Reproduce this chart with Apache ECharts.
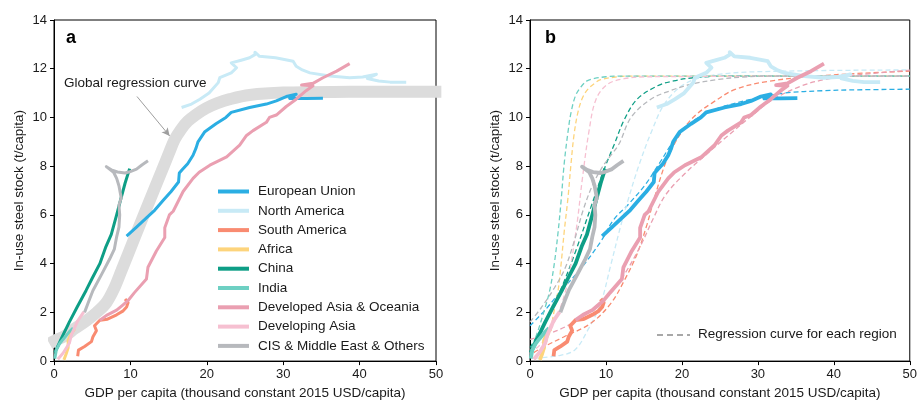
<!DOCTYPE html>
<html><head><meta charset="utf-8">
<script src="https://cdn.jsdelivr.net/npm/echarts@6/dist/echarts.min.js"></script>
<style>html,body{margin:0;padding:0;background:#fff}#c{width:920px;height:405px}</style>
</head><body><div id="c"></div>
<script>
// ---- categories / colours ----
const regions = ['European Union','North America','South America','Africa','China','India',
  'Developed Asia & Oceania','Developing Asia','CIS & Middle East & Others'];
const regionColors = ['#2BAEE3','#C8EAF6','#F98B71','#FDD47C','#0E9E86','#6ED0C3','#EA9FB1','#F6C0D1','#B7B9BD'];

// ---- observed trajectories [GDP per capita, steel stock] ----
const euLine = [[9.5,5.13],[10.8,5.5],[12.1,5.88],[13.2,6.2],[14.3,6.6],[15.3,6.95],[16.3,7.35],[16.4,7.72],[16.8,7.86],[17.5,8.1],[18.2,8.45],[18.6,8.75],[18.85,9.0],[19.7,9.4],[21.2,9.74],[22.5,10.0],[23.2,10.21],[25.6,10.41],[27.8,10.55],[29.1,10.68],[30.4,10.86],[31.7,10.95],[30.85,10.78],[33,10.78],[35.2,10.79]];
const naLine = [[16.7,10.41],[18.0,10.55],[19.1,10.75],[20.3,11.0],[21.5,11.43],[21.7,11.63],[23.2,11.83],[23.9,12.04],[23.2,12.24],[24.5,12.35],[25.6,12.45],[26.3,12.58],[26.3,12.68],[26.9,12.51],[29,12.45],[31.3,12.31],[31.7,12.1],[32.5,11.95],[33.5,11.83],[36.1,11.7],[38.7,11.63],[40.4,11.66],[42.2,11.77],[41,11.6],[42.5,11.5],[44,11.45],[46.1,11.45]];
const saLine = [[3.1,0.2],[3.2,0.45],[4.0,0.6],[4.9,0.8],[5.1,1.0],[5.55,1.25],[5.3,1.45],[6.0,1.68],[7.0,1.72],[8.2,1.9],[9.0,2.05],[9.5,2.22],[9.7,2.4],[9.3,2.55]];
const africaLine = [[1.3,0.05],[1.6,0.3],[1.85,0.55],[1.85,0.85],[2.2,1.1],[2.7,1.32]];
const chinaLine = [[0.1,0.35],[1.0,0.95],[2.0,1.6],[3.0,2.2],[4.2,2.9],[5.0,3.4],[6.0,4.0],[6.8,4.7],[7.5,5.2],[8.2,6.0],[8.7,6.6],[9.3,7.3],[9.9,7.9]];
const indiaLine = [[0.1,0.1],[0.3,0.45],[0.7,0.7],[1.2,0.9],[2.0,1.2],[2.5,1.35]];
const devAsiaOceLine = [[6.0,1.68],[7.0,1.9],[8.2,2.09],[9.0,2.3],[9.7,2.49],[10.5,2.8],[12.1,3.37],[12.3,3.85],[13.4,4.52],[14.5,5.07],[14.5,5.47],[15.1,6.0],[15.6,6.15],[16.9,6.96],[18.2,7.5],[19.0,7.75],[20.4,8.04],[22.6,8.38],[24.3,8.86],[25.2,9.26],[26.05,9.46],[27.8,9.8],[28.2,10.0],[29.1,10.1],[30.4,10.45],[31.7,10.75],[33.0,11.1],[33.9,11.3],[32.4,11.33],[33.9,11.4],[35.2,11.63],[37.0,11.9],[38.7,12.21]];
const developingAsiaLine = [[0.5,0.08],[1.2,0.33],[2.0,0.73],[2.3,1.1],[2.6,1.3],[3.1,1.65],[3.9,2.02]];
const cisLine = [[4.0,2.0],[4.6,2.5],[5.1,2.9],[6.3,3.6],[7.3,4.2],[7.9,4.6],[8.2,5.1],[8.5,5.5],[8.6,6.0],[8.5,6.4],[8.8,6.7],[8.5,7.2],[8.2,7.5],[7.8,7.75],[6.85,7.98],[7.5,7.85],[8.3,7.76],[9.3,7.72],[9.9,7.77],[10.8,7.88],[11.5,8.05],[12.3,8.22]];

// ---- global regression curve ----
const globalCurve = [[-0.6,0.72],[0,0.82],[1.5,1.05],[2.7,1.33],[4.2,1.65],[5.6,2.0],[6.86,2.4],[7.9,3.0],[8.82,3.71],[10.56,5.07],[12.3,6.42],[14.06,7.77],[15.0,8.5],[15.8,9.1],[16.6,9.5],[17.5,9.84],[18.6,10.12],[19.9,10.38],[21.3,10.58],[23.0,10.75],[25.6,10.92],[30,11.02],[38.7,11.05],[50.7,11.06]];
const arrowFrom = [10.86,10.86];
const arrowTo = [15.14,9.24];

// ---- regional regression curves (panel b) ----
const euFit = [[0,1.45],[2,2.1],[4,2.85],[6.7,3.8],[9.3,4.9],[11,5.8],[13,6.45],[15.2,7.25],[17,8.1],[19.1,9.1],[21.7,9.9],[24.8,10.38],[29.2,10.75],[33.5,11.0],[38.7,11.1],[42.3,11.13],[50,11.16]];
const naFit = [[0.6,0.12],[3.7,0.22],[5.9,0.46],[7.6,1.27],[9.3,2.36],[10.6,3.9],[11.9,5.5],[12.9,6.6],[14.3,8.0],[16.1,9.5],[17.8,10.6],[20.5,11.4],[24.8,11.77],[33.5,11.9],[50,11.95]];
const saFit = [[0.5,0.35],[1.9,0.6],[4.5,1.0],[8,1.55],[10.6,2.35],[12.4,3.3],[14.1,4.4],[15.4,5.6],[16.2,6.5],[17.8,8.1],[19,8.9],[20.5,9.65],[22,10.15],[24,10.6],[27,11.15],[31.3,11.48],[37.9,11.7],[44,11.82],[50,11.9]];
const africaFit = [[1.3,0.05],[1.8,0.5],[2.4,1.0],[2.9,1.6],[3.2,2.1],[3.7,2.9],[4.1,4.0],[4.5,5.3],[5.0,6.7],[5.4,8.1],[5.8,9.3],[6.3,10.2],[6.9,10.8],[7.6,11.15],[8.5,11.4],[9.3,11.55],[11,11.65],[13,11.7],[50,11.7]];
const chinaFit = [[0,0.55],[2,1.6],[4,2.9],[6,4.5],[8,6.3],[9.8,7.9],[11.1,8.9],[12.4,9.9],[14.1,10.75],[16.8,11.3],[18.9,11.5],[21.5,11.63],[25,11.69],[50,11.7]];
const indiaFit = [[0,0.35],[1.0,1.2],[1.9,2.1],[2.6,2.9],[3.2,4.0],[3.7,5.3],[4.1,6.6],[4.5,8.1],[5.0,9.4],[5.4,10.2],[6.0,10.9],[6.7,11.25],[7.5,11.5],[8.5,11.6],[10,11.67],[12,11.7],[50,11.7]];
const devAsiaOceFit = [[0,0.89],[3.7,1.27],[7.2,1.88],[10.2,2.63],[12.5,3.6],[14.5,4.7],[16.3,5.9],[17.8,6.8],[20.4,7.7],[23.1,8.45],[26.1,9.26],[29.2,10.07],[31.8,10.7],[35.7,11.29],[38.7,11.55],[42.3,11.72],[50,11.94]];
const developingAsiaFit = [[0,0.3],[2,0.9],[3.5,1.8],[4.7,2.9],[5.4,4.0],[5.9,5.0],[6.3,5.9],[6.9,7.5],[7.8,9.5],[8.7,10.75],[10.2,11.36],[12.4,11.59],[15.6,11.67],[50,11.7]];
const cisFit = [[0,1.6],[1.5,2.2],[3.2,3.0],[4.6,3.8],[5.8,4.9],[7,6.2],[8.2,7.2],[9.4,7.9],[10.4,8.35],[11.7,8.9],[13.3,10.0],[15.9,10.75],[18.5,11.1],[21,11.35],[24.8,11.56],[28,11.66],[32,11.7],[50,11.7]];

// ---- axes ticks ----
const xTicks = [0,10,20,30,40,50];
const yTicks = [0,2,4,6,8,10,12,14];

const lines = [euLine,naLine,saLine,africaLine,chinaLine,indiaLine,devAsiaOceLine,developingAsiaLine,cisLine];
const fits = [euFit,naFit,saFit,africaFit,chinaFit,indiaFit,devAsiaOceFit,developingAsiaFit,cisFit];

const FONT = '"Liberation Sans", Arial, Helvetica, sans-serif';
const TXT = '#1a1a1a';

function xAxis(idx){
  return {gridIndex: idx, type:'value', min: xTicks[0], max: xTicks[xTicks.length-1], interval: xTicks[1]-xTicks[0],
    name:'GDP per capita (thousand constant 2015 USD/capita)', nameLocation:'middle', nameGap: 24,
    nameTextStyle:{fontSize:13.5, color:TXT, fontFamily:FONT},
    axisLine:{show:true, lineStyle:{color:'#000', width:1}},
    axisTick:{show:true, length:4, lineStyle:{color:'#000'}},
    axisLabel:{fontSize:13, color:TXT, fontFamily:FONT, margin:7},
    splitLine:{show:false}};
}
function yAxis(idx){
  return {gridIndex: idx, type:'value', min: yTicks[0], max: yTicks[yTicks.length-1], interval: yTicks[1]-yTicks[0],
    name:'In-use steel stock (t/capita)', nameLocation:'middle', nameGap: 28,
    nameTextStyle:{fontSize:13.5, color:TXT, fontFamily:FONT},
    axisLine:{show:true, lineStyle:{color:'#000', width:1}},
    axisTick:{show:true, length:4, lineStyle:{color:'#000'}},
    axisLabel:{fontSize:13, color:TXT, fontFamily:FONT, margin:7},
    splitLine:{show:false}};
}

const series = [];
series.push({name:'Global regression curve', type:'line', xAxisIndex:0, yAxisIndex:0, data: globalCurve,
  showSymbol:false, smooth:0.35, clip:false, z:1, silent:true,
  lineStyle:{color:'#DCDCDC', width:12, cap:'butt'},
  markLine:{silent:true, symbol:['none','arrow'], symbolSize:[6,8], animation:false,
    lineStyle:{color:'#9E9E9E', width:1, type:'solid'}, label:{show:false},
    data:[[{coord: arrowFrom},{coord: arrowTo}]]}});

regions.forEach((r,i)=>{
  series.push({name:r, type:'line', xAxisIndex:0, yAxisIndex:0, data: lines[i], showSymbol:false, z:3,
    itemStyle:{color:regionColors[i]}, lineStyle:{color:regionColors[i], width:3, join:'round'}});
});
regions.forEach((r,i)=>{
  series.push({name:r+' fit', type:'line', xAxisIndex:1, yAxisIndex:1, data: fits[i], showSymbol:false, smooth:0.35, z:2,
    lineStyle:{color:regionColors[i], width:1.3, type:[5,3]}});
});
regions.forEach((r,i)=>{
  series.push({name:r+' b', type:'line', xAxisIndex:1, yAxisIndex:1, data: lines[i], showSymbol:false, z:3,
    lineStyle:{color:regionColors[i], width:3.8, join:'round'}});
});

const chart = echarts.init(document.getElementById('c'), null, {renderer:'canvas'});
chart.setOption({
  animation:false,
  backgroundColor:'#fff',
  textStyle:{fontFamily:FONT},
  grid:[
    {left:54, top:20, width:382, height:345, show:true, borderColor:'#000', borderWidth:1, backgroundColor:'transparent'},
    {left:530, top:20, width:382, height:345, show:true, borderColor:'#000', borderWidth:1, backgroundColor:'transparent'}
  ],
  xAxis:[xAxis(0), xAxis(1)],
  yAxis:[yAxis(0), yAxis(1)],
  legend:{data: regions, orient:'vertical', left:213, top:179, icon:'rect', itemWidth:31, itemHeight:4, itemGap:4.3,
    selectedMode:false, textStyle:{fontSize:13.5, color:TXT, fontFamily:FONT, lineHeight:15, padding:[0,0,0,4]}},
  graphic:[
    {type:'text', left:66, top:29, style:{text:'a', font:'bold 18px '+FONT, fill:'#000'}},
    {type:'text', left:545, top:29, style:{text:'b', font:'bold 18px '+FONT, fill:'#000'}},
    {type:'text', left:64, top:76, style:{text:'Global regression curve', font:'13.5px '+FONT, fill:TXT}},
    {type:'line', shape:{x1:657, y1:335, x2:690, y2:335}, style:{stroke:'#A8A8A8', lineWidth:2, lineDash:[6,4]}},
    {type:'text', left:698, top:327, style:{text:'Regression curve for each region', font:'13.5px '+FONT, fill:TXT}}
  ],
  series: series
});
</script></body></html>
